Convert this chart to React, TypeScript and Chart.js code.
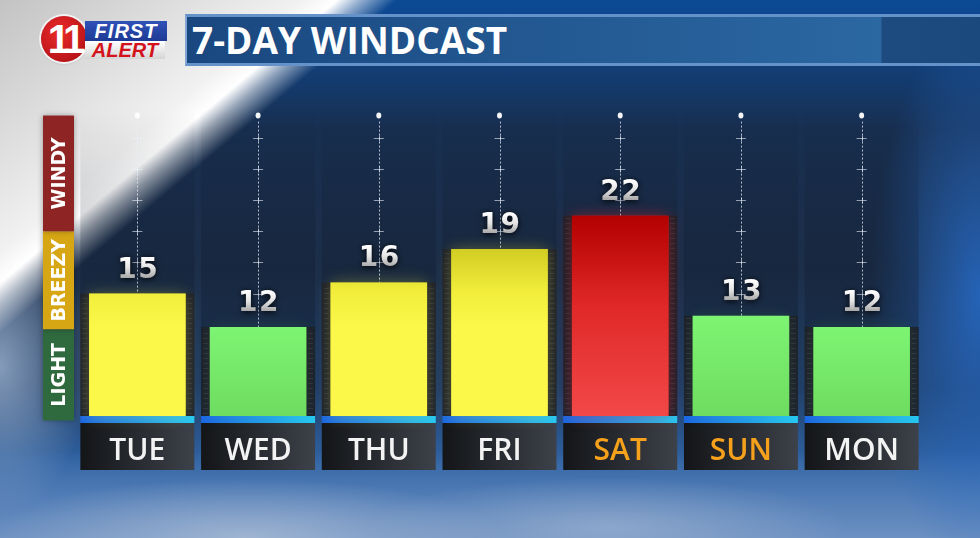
import { useEffect, useRef } from 'react';
import { Chart, registerables } from 'chart.js';

Chart.register(...registerables);

// ---- data ----
const days = ['TUE', 'WED', 'THU', 'FRI', 'SAT', 'SUN', 'MON'];
const windSpeeds = [15, 12, 16, 19, 22, 13, 12];
const weekendDays = ['SAT', 'SUN'];
const bandNames = ['LIGHT', 'BREEZY', 'WINDY'];
const bandEdges = [3.6, 11.8, 20.6, 31];
const speedThresholds = [13, 20];
const rulerTicks = [15, 17.8, 20.6, 23.4, 26.2, 29];
const rulerTop = 31;
const yMin = 4;
const yMax = 31.5;

// ---- styles ----
const bandColors = ['#2f6a3e', '#d6a614', '#8e2424'];
const levelOf = (v: number) => (v <= speedThresholds[0] ? 0 : v <= speedThresholds[1] ? 1 : 2);
const glowColors = ['rgba(120,240,100,0.35)', 'rgba(245,235,60,0.55)', 'rgba(255,40,40,0.65)'];

const windPlugin = {
  id: 'windcast',
  beforeDraw(chart: any) {
    const { ctx, chartArea: a, scales } = chart;
    const x = scales.x;
    const y = scales.y;
    const step = x.getPixelForValue(1) - x.getPixelForValue(0);
    const colW = step * 0.944;
    ctx.save();
    // legend bands
    for (let i = 0; i < bandNames.length; i++) {
      const top = y.getPixelForValue(bandEdges[i + 1]);
      const bot = y.getPixelForValue(bandEdges[i]);
      ctx.save();
      ctx.shadowColor = 'rgba(0,0,0,0.35)';
      ctx.shadowBlur = 6;
      ctx.fillStyle = bandColors[i];
      ctx.fillRect(a.left - 34, top, 31, bot - top);
      ctx.restore();
      ctx.save();
      ctx.translate(a.left - 17.5, (top + bot) / 2);
      ctx.rotate(-Math.PI / 2);
      ctx.fillStyle = '#ffffff';
      ctx.font = 'bold 19px "DejaVu Sans"';
      ctx.textAlign = 'center';
      ctx.textBaseline = 'middle';
      ctx.fillText(bandNames[i], 0, 1);
      ctx.restore();
    }
    // column panels, strips, day boxes
    days.forEach((_d, i) => {
      const cx = x.getPixelForValue(i);
      const l = cx - colW / 2;
      const g = ctx.createLinearGradient(0, a.top, 0, a.bottom);
      g.addColorStop(0, 'rgba(10,16,28,0)');
      g.addColorStop(0.35, 'rgba(10,16,28,0.16)');
      g.addColorStop(1, 'rgba(10,16,28,0.32)');
      ctx.fillStyle = g;
      ctx.fillRect(l, a.top, colW, a.bottom - a.top);
      const sg = ctx.createLinearGradient(l, 0, l + colW, 0);
      sg.addColorStop(0, '#1b66e2');
      sg.addColorStop(1, '#26c8f2');
      ctx.fillStyle = sg;
      ctx.fillRect(l, a.bottom, colW, 7);
      const bg = ctx.createLinearGradient(l, 0, l + colW, 0);
      bg.addColorStop(0, '#131518');
      bg.addColorStop(1, '#3d4149');
      ctx.fillStyle = bg;
      ctx.fillRect(l, a.bottom + 7, colW, 47);
    });
    ctx.restore();
  },
  beforeDatasetsDraw(chart: any) {
    const { ctx, scales } = chart;
    const x = scales.x;
    const y = scales.y;
    const step = x.getPixelForValue(1) - x.getPixelForValue(0);
    const colW = step * 0.944;
    const meta = chart.getDatasetMeta(0);
    const topY = y.getPixelForValue(rulerTop);
    ctx.save();
    meta.data.forEach((bar: any, i: number) => {
      const p = bar.getProps(['x', 'y', 'base', 'width'], true);
      // ruler strip behind bar
      ctx.fillStyle = 'rgba(30,32,38,0.85)';
      ctx.fillRect(p.x - colW / 2, p.y, colW, p.base - p.y);
      ctx.strokeStyle = 'rgba(255,255,255,0.08)';
      ctx.lineWidth = 1;
      for (let yy = p.base - 3; yy > p.y + 2; yy -= 5) {
        ctx.beginPath();
        ctx.moveTo(p.x - colW / 2 + 2, yy + 0.5);
        ctx.lineTo(p.x - colW / 2 + 7, yy + 0.5);
        ctx.moveTo(p.x + colW / 2 - 7, yy + 0.5);
        ctx.lineTo(p.x + colW / 2 - 2, yy + 0.5);
        ctx.stroke();
      }
      // dotted guide line
      ctx.fillStyle = 'rgba(255,255,255,0.95)';
      ctx.beginPath();
      ctx.ellipse(p.x, topY, 2.5, 3, 0, 0, Math.PI * 2);
      ctx.fill();
      ctx.strokeStyle = 'rgba(235,240,250,0.75)';
      ctx.setLineDash([2, 2]);
      ctx.beginPath();
      ctx.moveTo(Math.round(p.x) + 0.5, topY + 6);
      ctx.lineTo(Math.round(p.x) + 0.5, p.y);
      ctx.stroke();
      ctx.setLineDash([]);
      ctx.strokeStyle = 'rgba(235,240,250,0.6)';
      rulerTicks.forEach((t) => {
        const ty = Math.round(y.getPixelForValue(t)) + 0.5;
        if (ty < p.y - 2) {
          ctx.beginPath();
          ctx.moveTo(p.x - 5, ty);
          ctx.lineTo(p.x + 5, ty);
          ctx.moveTo(Math.round(p.x) + 0.5, ty - 3);
          ctx.lineTo(Math.round(p.x) + 0.5, ty + 3);
          ctx.stroke();
        }
      });
      // glow
      ctx.save();
      ctx.shadowColor = glowColors[levelOf(windSpeeds[i])];
      ctx.shadowBlur = 14;
      ctx.fillStyle = glowColors[levelOf(windSpeeds[i])];
      ctx.fillRect(p.x - p.width / 2, p.y, p.width, p.base - p.y);
      ctx.restore();
    });
    ctx.restore();
  },
  afterDatasetsDraw(chart: any) {
    const { ctx } = chart;
    const meta = chart.getDatasetMeta(0);
    ctx.save();
    ctx.font = 'bold 28px "DejaVu Sans"';
    ctx.textAlign = 'center';
    ctx.textBaseline = 'alphabetic';
    (ctx as any).letterSpacing = '1.5px';
    meta.data.forEach((bar: any, i: number) => {
      const p = bar.getProps(['x', 'y'], true);
      const by = p.y - 16;
      const g = ctx.createLinearGradient(0, by - 20, 0, by);
      g.addColorStop(0, '#ffffff');
      g.addColorStop(0.5, '#e4e4e4');
      g.addColorStop(1, '#a9a9a9');
      ctx.shadowColor = 'rgba(0,0,0,0.95)';
      ctx.shadowBlur = 6;
      ctx.shadowOffsetY = 1;
      ctx.fillStyle = g;
      ctx.fillText(String(windSpeeds[i]), p.x + 1, by);
    });
    ctx.restore();
  },
};

function barFill(c: any) {
  const chart = c.chart;
  const v = c.raw as number;
  const lvl = levelOf(v);
  const ys = chart.scales?.y;
  const area = chart.chartArea;
  const flat = ['#78ee6c', '#f5f140', '#e63434'][lvl];
  if (!ys || !area) return flat;
  const ctx = chart.ctx;
  if (lvl === 0) {
    const g = ctx.createLinearGradient(0, ys.getPixelForValue(v), 0, area.bottom);
    g.addColorStop(0, '#7ef473');
    g.addColorStop(1, '#6edc60');
    return g;
  }
  if (lvl === 1) {
    const g = ctx.createLinearGradient(0, ys.getPixelForValue(20), 0, ys.getPixelForValue(12));
    g.addColorStop(0, '#c9c41c');
    g.addColorStop(0.6, '#f1ed3a');
    g.addColorStop(1, '#fbf84a');
    return g;
  }
  const g = ctx.createLinearGradient(0, ys.getPixelForValue(v), 0, area.bottom);
  g.addColorStop(0, '#b30000');
  g.addColorStop(0.45, '#e02828');
  g.addColorStop(1, '#f24848');
  return g;
}

export default function App() {
  const canvasRef = useRef<HTMLCanvasElement | null>(null);

  useEffect(() => {
    const canvas = canvasRef.current;
    if (!canvas) return;
    const chart = new Chart(canvas, {
      type: 'bar',
      data: {
        labels: days,
        datasets: [
          {
            data: windSpeeds,
            base: yMin,
            backgroundColor: barFill,
            borderWidth: 0,
            barPercentage: 0.8,
            categoryPercentage: 1,
          } as any,
        ],
      },
      options: {
        responsive: false,
        animation: false,
        devicePixelRatio: 1,
        layout: { padding: { left: 77, right: 58, top: 110, bottom: 0 } },
        scales: {
          x: {
            grid: { display: false, drawTicks: false },
            border: { display: false },
            ticks: {
              padding: 17,
              color: (c: any) => (weekendDays.includes(days[c.index]) ? '#f6a11b' : '#f3f3f3'),
              font: { family: '"Open Sans"', size: 30, weight: '600' },
              maxRotation: 0,
            },
            afterFit: (s: any) => {
              s.height = 122;
            },
          },
          y: { display: false, min: yMin, max: yMax },
        },
        plugins: { legend: { display: false }, tooltip: { enabled: false } },
      },
      plugins: [windPlugin],
    });
    return () => chart.destroy();
  }, []);

  const bg = [
    'linear-gradient(140deg, #c3c3c3 0%, #d9d9d9 9%, #f1f1f1 18.5%, #ffffff 20.8%, rgba(255,255,255,0.55) 22.3%, rgba(255,255,255,0) 24.5%)',
    'radial-gradient(ellipse 90px 150px at 0% 68%, rgba(150,172,202,0.85), rgba(150,172,202,0))',
    'radial-gradient(ellipse 110px 280px at 100% 55%, rgba(38,105,195,0.9), rgba(38,105,195,0))',
    'radial-gradient(ellipse 260px 60px at 25% 100%, rgba(175,192,215,0.75), rgba(175,192,215,0))',
    'radial-gradient(ellipse 240px 50px at 62% 98%, rgba(165,185,212,0.6), rgba(165,185,212,0))',
    'linear-gradient(to bottom, rgba(0,0,0,0) 0%, rgba(0,0,0,0) 84%, rgba(110,145,195,0.55) 93%, rgba(130,158,200,0.7) 100%)',
    'linear-gradient(to bottom, #0c4a96 0%, #123f78 12%, #182f50 24%, #1c2e48 50%, #213e66 72%, #2f62a2 86%, #3a6fb0 100%)',
  ].join(',');

  return (
    <div
      style={{
        position: 'fixed',
        left: 0,
        top: 0,
        width: 980,
        height: 538,
        overflow: 'hidden',
        background: bg,
      }}
    >
      {/* logo */}
      <div
        style={{
          position: 'absolute',
          left: 41,
          top: 16,
          width: 46,
          height: 46,
          borderRadius: '50%',
          background: 'radial-gradient(circle at 40% 35%, #ea2a2a, #a80c12)',
          boxShadow: '0 0 0 2px #f2f2f2, 0 1px 3px rgba(0,0,0,0.4)',
          color: '#fff',
          fontFamily: '"Liberation Sans", Arial, sans-serif',
          fontWeight: 700,
          fontSize: 40,
          lineHeight: '46px',
          textAlign: 'center',
          letterSpacing: -5,
        }}
      >
        11
      </div>
      <div
        style={{
          position: 'absolute',
          left: 85,
          top: 21,
          width: 82,
          height: 20,
          background: 'linear-gradient(to bottom, #2f52b8, #1d3a94)',
          color: '#fff',
          fontFamily: '"Liberation Sans", Arial, sans-serif',
          fontWeight: 700,
          fontStyle: 'italic',
          fontSize: 20,
          lineHeight: '20px',
          textAlign: 'center',
          letterSpacing: 1,
        }}
      >
        FIRST
      </div>
      <div
        style={{
          position: 'absolute',
          left: 85,
          top: 41,
          width: 80,
          height: 18,
          background: 'linear-gradient(to bottom, #ffffff, #d4d4d4)',
          color: '#d3121b',
          fontFamily: '"Liberation Sans", Arial, sans-serif',
          fontWeight: 700,
          fontStyle: 'italic',
          fontSize: 20,
          lineHeight: '18px',
          textAlign: 'center',
        }}
      >
        ALERT
      </div>
      {/* title banner */}
      <div
        style={{
          position: 'absolute',
          left: 185,
          top: 14,
          width: 795,
          height: 46,
          borderTop: '3px solid #6592c8',
          borderBottom: '3px solid #6592c8',
          borderLeft: '2px solid #7fa6d4',
          background:
            'linear-gradient(to right, #1a477f 0%, #235992 45%, #2b67a1 87.3%, #1d4b7f 87.4%, #1c497d 100%)',
        }}
      />
      <div
        style={{
          position: 'absolute',
          left: 192,
          top: 17,
          height: 46,
          lineHeight: '46px',
          color: '#ffffff',
          fontFamily: '"Open Sans", sans-serif',
          fontWeight: 700,
          fontSize: 37,
          whiteSpace: 'nowrap',
        }}
      >
        7-DAY WINDCAST
      </div>
      <canvas
        ref={canvasRef}
        width={980}
        height={538}
        style={{ position: 'absolute', left: 0, top: 0 }}
      />
    </div>
  );
}
